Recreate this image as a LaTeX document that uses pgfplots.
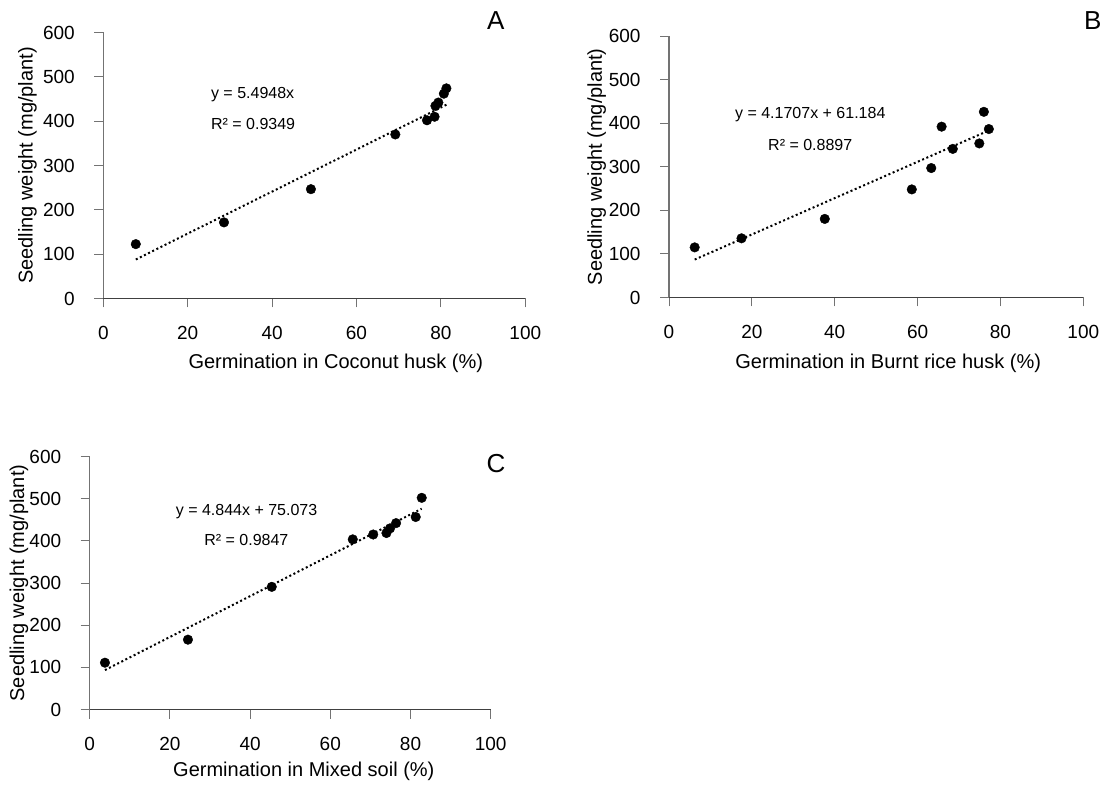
\documentclass[border=0pt]{standalone}
\usepackage{pgfplots}
\pgfplotsset{compat=1.18}
\usepackage{fontspec}
\setmainfont{Liberation Sans}
\pgfplotstableread{
x y
7.7 122.6
28.6 171.7
49.2 246.6
69.2 370.0
76.7 402.0
78.5 410.0
78.7 434.5
79.4 442.0
80.7 462.0
81.3 474.0
}\dataA
\pgfplotstableread{
x y
6.2 115.0
17.5 135.8
37.6 180.3
58.6 248.0
63.3 297.0
65.8 392.0
68.5 341.0
74.9 353.5
76.0 426.0
77.2 386.5
}\dataB
\pgfplotstableread{
x y
3.8 111.0
24.5 165.6
45.4 290.9
65.6 403.5
70.7 415.0
74.0 418.5
74.9 429.6
76.4 442.0
81.3 456.5
82.8 502.0
}\dataC
\tikzset{
 eq/.style={anchor=west, font=\fontsize{16}{19}\selectfont},
 letter/.style={font=\fontsize{26}{30}\selectfont},
}
\begin{document}
\begin{tikzpicture}
\useasboundingbox (0pt,0pt) rectangle (1106pt,785pt);
\pgfplotsset{
 panel/.style={
  scale only axis, axis lines=left, axis line style={-},
  xmin=0,xmax=100,ymin=0,ymax=600,
  xtick={0,20,...,100}, ytick={0,100,...,600},
  tick align=outside, major tick length=9pt,
  tick style={black!55, line width=1pt},
  x axis line style={black!75, line width=1.1pt},
  y axis line style={black!55, line width=1.1pt},
  tick label style={font=\fontsize{19}{22}\selectfont, /pgf/number format/assume math mode=true},
  xticklabel style={yshift=-15pt},
  yticklabel style={xshift=-16pt},
  label style={font=\fontsize{20}{24}\selectfont},
  ylabel={Seedling weight (mg/plant)},
  clip=false,
 },
 pts/.style={only marks, mark=*, mark size=4.8pt, black},
 trend/.style={black, line width=2pt, dash pattern=on 2pt off 2.6pt, line cap=butt},
}
% Panel A
\begin{axis}[panel, at={(103.3pt,486.5pt)}, anchor=south west, width=422pt, height=266pt,
  xlabel={Germination in Coconut husk (\%)},
  x label style={at={(axis description cs:0.551,-0.2425)}, anchor=center},
  y label style={at={(axis description cs:-0.1796,0.5)}, anchor=center}]
\addplot[pts] table[x=x,y=y]{\dataA};
\addplot[trend] coordinates {(7.7,88) (81.3,437)};
\node[eq] at (axis cs:24.7,459) {y = 5.4948x};
\node[eq] at (axis cs:24.7,393) {R² = 0.9349};
\node[letter] at (rel axis cs:0.930,1.044) {A};
\end{axis}
% Panel B
\begin{axis}[panel, at={(669pt,487.5pt)}, anchor=south west, width=414.3pt, height=261.5pt,
  xlabel={Germination in Burnt rice husk (\%)},
  x label style={at={(axis description cs:0.529,-0.2505)}, anchor=center},
  y label style={at={(axis description cs:-0.1748,0.5)}, anchor=center}]
\addplot[pts] table[x=x,y=y]{\dataB};
\addplot[trend] coordinates {(6.2,87.04) (77.2,383.16)};
\node[eq] at (axis cs:15.1,419.5) {y = 4.1707x + 61.184};
\node[eq] at (axis cs:23.1,351) {R² = 0.8897};
\node[letter] at (rel axis cs:1.023,1.0585) {B};
\end{axis}
% Panel C
\begin{axis}[panel, at={(89.7pt,75.5pt)}, anchor=south west, width=401pt, height=253pt,
  xlabel={Germination in Mixed soil (\%)},
  x label style={at={(axis description cs:0.534,-0.246)}, anchor=center},
  y label style={at={(axis description cs:-0.1766,0.5)}, anchor=center}]
\addplot[pts] table[x=x,y=y]{\dataC};
\addplot[trend] coordinates {(3.8,93.48) (82.8,476.15)};
\node[eq] at (axis cs:20.6,469) {y = 4.844x + 75.073};
\node[eq] at (axis cs:27.7,402) {R² = 0.9847};
\node[letter] at (rel axis cs:1.013,0.973) {C};
\end{axis}
\end{tikzpicture}
\end{document}
